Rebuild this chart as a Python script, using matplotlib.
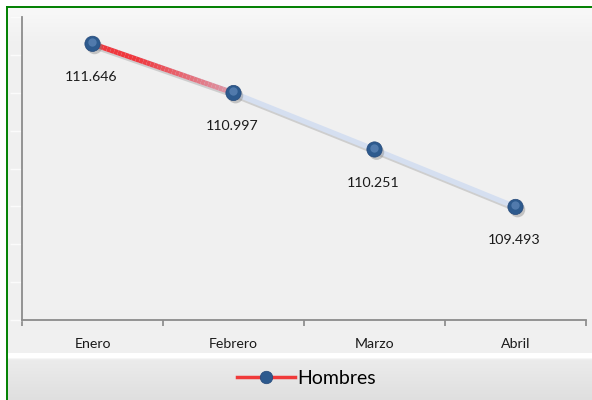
import numpy as np
import matplotlib
matplotlib.use("Agg")
import matplotlib.pyplot as plt
import matplotlib.patheffects as pe
import matplotlib.transforms as mtrans
from matplotlib.collections import LineCollection
from matplotlib.lines import Line2D

meses = ["Enero", "Febrero", "Marzo", "Abril"]
hombres = [111.646, 110.997, 110.251, 109.493]
etiquetas = ["111.646", "110.997", "110.251", "109.493"]

W, H = 592, 400
plt.rcParams['font.family'] = ['Lato', 'DejaVu Sans']

fig = plt.figure(figsize=(W / 100, H / 100), dpi=100)
fig.patch.set_facecolor("white")

# fondo del grafico (gradiente suave)
bg = fig.add_axes([7 / W, 0, 1 - 7 / W, 393 / H])
grad = np.linspace(0, 1, 256).reshape(-1, 1)
top_c = np.array([0.975, 0.975, 0.975])
bot_c = np.array([0.945, 0.945, 0.945])
img = top_c + (bot_c - top_c) * np.clip(grad * 12, 0, 1)[..., None]
bg.imshow(img, aspect="auto", extent=[0, 1, 0, 1])
bg.set_axis_off()

# franja blanca y caja de leyenda
blanco = fig.add_axes([8 / W, 42 / H, 1 - 8 / W, 5 / H])
blanco.set_axis_off()
blanco.add_patch(plt.Rectangle((0, 0), 1, 1, color="white", transform=blanco.transAxes))

leg_ax = fig.add_axes([8 / W, 0, 1 - 8 / W, 42 / H])
g2 = np.linspace(0, 1, 256).reshape(-1, 1)
c_top = np.array([0.925, 0.925, 0.925])
c_bot = np.array([0.875, 0.875, 0.875])
img2 = c_top + (c_bot - c_top) * g2[..., None]
img2[:8] = np.array([0.965, 0.965, 0.965])
leg_ax.imshow(img2, aspect="auto", extent=[0, 1, 0, 1])
leg_ax.set_axis_off()

# borde verde
fig.add_artist(Line2D([6.5 / W, 6.5 / W], [0, 393.5 / H], color="#008000", lw=1.4))
fig.add_artist(Line2D([6.5 / W, 1], [393.5 / H, 393.5 / H], color="#008000", lw=1.4))

ax = fig.add_axes([22 / W, 80 / H, (586 - 22) / W, (320 - 17) / H])
ax.patch.set_alpha(0)
x = np.arange(len(meses))

sombra = [pe.SimpleLineShadow(offset=(1.5, -2), shadow_color="gray", alpha=0.3), pe.Normal()]
ax.plot(x, hombres, color="#d5dff0", lw=3.8, solid_capstyle="butt", path_effects=sombra, zorder=2)

# primer tramo en gradiente rojo
t = np.linspace(0, 1, 40)
xs = x[0] + (x[1] - x[0]) * t
ys = hombres[0] + (hombres[1] - hombres[0]) * t
pts = np.column_stack([xs, ys]).reshape(-1, 1, 2)
segs = np.concatenate([pts[:-1], pts[1:]], axis=1)
c0 = np.array([0.94, 0.22, 0.24])
c1 = np.array([0.86, 0.62, 0.68])
tt = t[:-1][:, None]
cols = c0 + (c1 - c0) * np.clip((tt - 0.3) / 0.7, 0, 1)
ax.add_collection(LineCollection(segs, colors=cols, linewidths=3.8, capstyle="butt", zorder=3))

mk_sombra = [pe.SimplePatchShadow(offset=(1.5, -2), shadow_rgbFace="gray", alpha=0.4), pe.Normal()]
ax.plot(x, hombres, ls="none", marker="o", ms=11, mfc="#2d5a8e", mec="#25497a", mew=0.5,
        path_effects=mk_sombra, zorder=4)
hl = mtrans.offset_copy(ax.transData, fig=fig, x=-1.0, y=1.5, units="dots")
ax.plot(x, hombres, ls="none", marker="o", ms=6, mfc="#7da3d2", mec="none", alpha=0.45,
        transform=hl, zorder=5)

for xi, yi, lab in zip(x, hombres, etiquetas):
    ax.annotate(lab, (xi, yi), xytext=(-1, -24), textcoords="offset points",
                ha="center", va="center", fontsize=10.2, color="#1a1a1a")

ax.set_xlim(-0.5, 3.5)
ax.set_ylim(108, 112)
ax.set_xticks(x)
ax.set_xticklabels(meses, fontsize=10.2, color="#1a1a1a")
ax.set_xticks(np.arange(-0.5, 3.6, 1), minor=True)
ax.tick_params(axis="x", which="major", length=0, pad=13)
ax.tick_params(axis="x", which="minor", length=4, color="#888888", width=1.2)
ax.set_yticks(np.arange(108, 112.01, 0.5))
ax.set_yticklabels([])
ax.tick_params(axis="y", length=9, color="#fbfbfb", width=1)
for s in ["top", "right"]:
    ax.spines[s].set_visible(False)
for s in ["left", "bottom"]:
    ax.spines[s].set_color("#8c8c8c")
    ax.spines[s].set_linewidth(1.3)

h = Line2D([], [], color="#f03a3a", lw=2.5, marker="o", ms=9, mfc="#2d5a8e", mec="#25497a", mew=0.5)
fig.legend([h], ["Hombres"], loc="center", bbox_to_anchor=(306 / W, 22 / H), frameon=False,
           fontsize=14, handlelength=3.0, handletextpad=0.1, borderaxespad=0)

fig.savefig("out.png", dpi=100)
